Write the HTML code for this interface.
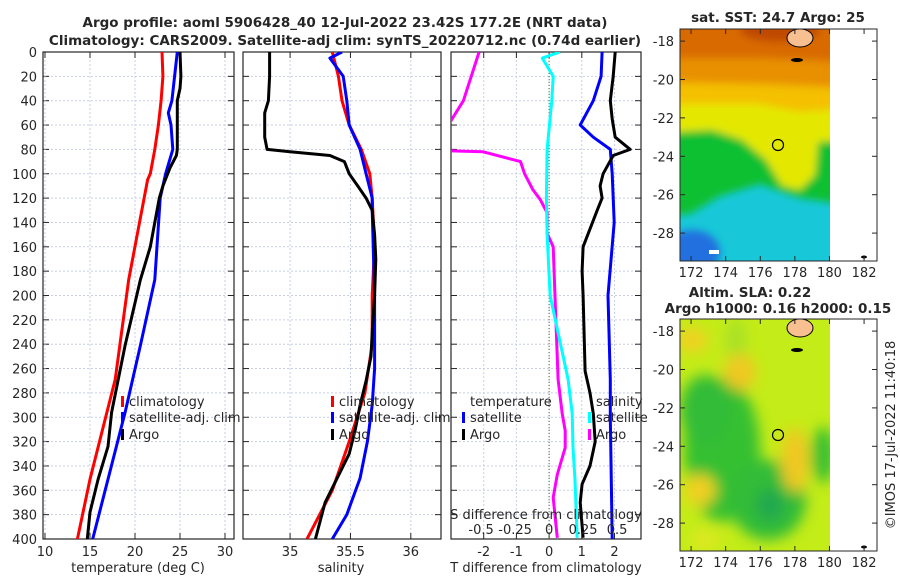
<!DOCTYPE html>
<html><head><meta charset="utf-8">
<style>
html,body{margin:0;padding:0;background:#fff;}
svg{display:block;font-family:"DejaVu Sans","Liberation Sans",sans-serif;}
text{fill:#262626;}
</style></head>
<body>
<svg id="c" width="900" height="580" viewBox="0 0 900 580" xmlns="http://www.w3.org/2000/svg">
<defs>
<clipPath id="cp1"><rect x="43" y="52" width="191" height="487"/></clipPath>
<clipPath id="cp2"><rect x="243" y="52" width="198" height="487"/></clipPath>
<clipPath id="cp3"><rect x="451" y="52" width="190" height="487"/></clipPath>
<clipPath id="cm1"><rect x="680" y="29" width="150" height="232"/></clipPath>
<clipPath id="cm2"><rect x="680" y="319" width="150" height="232"/></clipPath>
<filter id="bl" x="-20%" y="-20%" width="140%" height="140%"><feGaussianBlur stdDeviation="4"/></filter>
<filter id="bl2" x="-50%" y="-50%" width="200%" height="200%"><feGaussianBlur stdDeviation="7"/></filter>
</defs>
<text x="345" y="27" text-anchor="middle" font-weight="bold" font-size="13.5">Argo profile: aoml 5906428_40 12-Jul-2022 23.42S 177.2E (NRT data)</text>
<text x="345" y="45" text-anchor="middle" font-weight="bold" font-size="13.5">Climatology: CARS2009. Satellite-adj clim: synTS_20220712.nc (0.74d earlier)</text>

<!-- SST map -->
<g clip-path="url(#cm1)">
<rect x="680" y="29" width="150" height="232" fill="#18c8d8"/>
<g filter="url(#bl)">
<ellipse cx="692" cy="252" rx="28" ry="22" fill="#2070e0"/>
<polygon points="660,0 850,0 850,205 800,198 760,184 720,196 690,214 660,216" fill="#10c030"/>
<polygon points="660,0 850,0 850,140 818,142 815,175 800,190 782,186 766,160 742,140 712,130 660,133" fill="#e4e800"/>
<polygon points="660,0 850,0 850,108 800,112 760,104 720,104 660,104" fill="#f4c000"/>
<polygon points="660,0 850,0 850,88 760,84 660,82" fill="#e89000"/>
<polygon points="660,0 850,0 850,62 760,58 660,58" fill="#d86a00"/>
<ellipse cx="780" cy="30" rx="40" ry="12" fill="#c04800"/>
</g>
<rect x="709" y="250" width="10" height="4" fill="#fff"/>
</g>
<rect x="830" y="29" width="47" height="232" fill="#fff"/>
<ellipse cx="800" cy="38" rx="13" ry="9" fill="#f8c090" stroke="#000" stroke-width="1"/>
<ellipse cx="797" cy="60" rx="6" ry="2" fill="#000"/>
<ellipse cx="864" cy="257" rx="3" ry="1.5" fill="#000"/>
<circle cx="778" cy="145" r="5.5" fill="none" stroke="#000" stroke-width="1.2"/>
<rect x="680" y="29" width="197" height="232" fill="none" stroke="#262626" stroke-width="1"/>
<text x="778" y="22" text-anchor="middle" font-weight="bold" font-size="13.5">sat. SST: 24.7 Argo: 25</text>

<!-- SLA map -->
<g clip-path="url(#cm2)">
<rect x="680" y="319" width="150" height="232" fill="#c4ec18"/>
<g filter="url(#bl2)">
<ellipse cx="722" cy="450" rx="38" ry="72" fill="#34c030"/>
<ellipse cx="705" cy="410" rx="25" ry="35" fill="#30bc38"/>
<ellipse cx="768" cy="500" rx="38" ry="40" fill="#30bc38"/>
<ellipse cx="770" cy="505" rx="14" ry="16" fill="#20a850"/>
<ellipse cx="823" cy="455" rx="12" ry="28" fill="#38c030"/>
<ellipse cx="736" cy="340" rx="10" ry="22" fill="#a8e028"/>
<ellipse cx="740" cy="372" rx="16" ry="18" fill="#f0c820"/>
<ellipse cx="795" cy="460" rx="14" ry="32" fill="#f0c820"/>
<ellipse cx="700" cy="490" rx="16" ry="16" fill="#f0d020"/>
<ellipse cx="692" cy="340" rx="16" ry="12" fill="#f0d020"/>
<ellipse cx="705" cy="540" rx="14" ry="10" fill="#e0e820"/>
</g>
</g>
<rect x="830" y="319" width="47" height="232" fill="#fff"/>
<ellipse cx="800" cy="328" rx="13" ry="9" fill="#f8c090" stroke="#000" stroke-width="1"/>
<ellipse cx="797" cy="350" rx="6" ry="2" fill="#000"/>
<ellipse cx="864" cy="547" rx="3" ry="1.5" fill="#000"/>
<circle cx="778" cy="435" r="5.5" fill="none" stroke="#000" stroke-width="1.2"/>
<rect x="680" y="319" width="197" height="232" fill="none" stroke="#262626" stroke-width="1"/>
<text x="750" y="297" text-anchor="middle" font-weight="bold" font-size="13.5">Altim. SLA: 0.22</text>
<text x="778" y="313" text-anchor="middle" font-weight="bold" font-size="13.5">Argo h1000: 0.16 h2000: 0.15</text>
<text transform="translate(895,435) rotate(-90)" text-anchor="middle" font-size="13">©IMOS 17-Jul-2022 11:40:18</text>
</svg>
<script>
// ---- data ----
const depthTicks = [0,20,40,60,80,100,120,140,160,180,200,220,240,260,280,300,320,340,360,380,400];
const tempTicks = [10,15,20,25,30];
const salTicks = [35,35.5,36];
const salTickLabels = ["35","35.5","36"];
const tdiffTicks = [-2,-1,0,1,2];
const sdiffTicks = [-0.5,-0.25,0,0.25,0.5];
const sdiffTickLabels = ["-0.5","-0.25","0","0.25","0.5"];
const latTicks = [-18,-20,-22,-24,-26,-28];
const lonTicks = [172,174,176,178,180,182];

const tClimDepth = [0,20,40,60,80,100,105,187,269,351,400];
const tClimVal = [23.0,23.1,22.9,22.6,22.2,21.7,21.4,19.3,17.8,15.0,13.6];
const tSatDepth = [0,20,40,50,60,80,100,120,187,241,296,351,400];
const tSatVal = [24.7,24.4,24.1,23.7,24.0,24.2,23.4,22.8,22.2,20.6,18.9,17.0,15.3];
const tArgoDepth = [0,20,30,40,60,80,85,95,110,120,160,187,241,296,324,351,378,400];
const tArgoVal = [25.0,25.1,25.0,24.7,24.7,24.7,24.6,23.9,23.1,22.7,21.7,20.6,18.9,17.4,17.0,15.9,15.0,14.7];

const sClimDepth = [0,20,40,60,80,100,120,160,200,240,280,320,360,400];
const sClimVal = [35.35,35.40,35.43,35.49,35.59,35.66,35.68,35.70,35.68,35.68,35.62,35.49,35.35,35.14];
const sSatDepth = [0,5,20,40,60,80,100,120,130,200,260,290,320,350,380,400];
const sSatVal = [35.43,35.33,35.44,35.47,35.49,35.58,35.63,35.68,35.68,35.70,35.70,35.68,35.64,35.58,35.47,35.35];
const sArgoDepth = [0,20,40,50,70,80,82,85,90,100,110,120,130,150,170,200,230,250,270,290,310,330,350,370,400];
const sArgoVal = [34.83,34.83,34.82,34.79,34.79,34.81,35.0,35.33,35.45,35.49,35.56,35.63,35.68,35.70,35.71,35.70,35.68,35.67,35.63,35.58,35.54,35.49,35.39,35.29,35.21];

const dTSatDepth = [0,20,40,60,70,80,100,120,140,200,269,300,400];
const dTSatVal = [1.62,1.59,1.35,0.95,1.35,1.87,1.93,1.96,1.99,1.80,1.87,1.87,1.93];
const dTArgoDepth = [0,20,40,55,70,80,85,100,110,120,130,160,180,200,262,280,297,320,340,355,370,399];
const dTArgoVal = [2.02,1.96,1.87,1.93,2.02,2.48,1.96,1.65,1.56,1.62,1.47,1.04,1.01,1.04,1.10,1.25,1.35,1.41,1.25,1.01,0.95,1.04];
const dSSatDepth = [0,5,20,40,80,120,150,200,269,297,325,350,380,399];
const dSSatVal = [0.08,-0.05,0.03,0.02,-0.015,-0.02,-0.015,0.007,0.14,0.17,0.176,0.19,0.20,0.206];
const dSArgoDepth = [0,40,67,81,82,90,100,113,121,132,149,160,203,269,297,311,325,347,366,399];
const dSArgoVal = [-0.515,-0.63,-0.78,-0.78,-0.485,-0.21,-0.18,-0.12,-0.066,-0.015,-0.015,0.03,0.044,0.066,0.096,0.118,0.118,0.06,0.03,0.06];

// ---- axes ----
const Y0 = 52, Y1 = 539;
function yScale(d){ return Y0 + (d/400)*(Y1-Y0); }
const P1 = {x0:43, x1:234, d0:9.78, d1:31.0};
const P2 = {x0:243, x1:441, d0:34.61, d1:36.25};
const P3 = {x0:451, x1:641, d0:-3.0, d1:2.81};
function xs(P, v){ return P.x0 + (v-P.d0)/(P.d1-P.d0)*(P.x1-P.x0); }
function sdx(s){ return xs(P3,0) + s*136; }

const svg = document.getElementById('c');
const NS = 'http://www.w3.org/2000/svg';
function mk(tag, attrs, parent){
  const e = document.createElementNS(NS, tag);
  for (const k in attrs) e.setAttribute(k, attrs[k]);
  (parent||svg).appendChild(e);
  return e;
}
function txt(x,y,s,anchor,size,parent){
  const t = mk('text',{x:x,y:y,'text-anchor':anchor||'middle','font-size':size||13},parent);
  t.textContent = s;
  return t;
}

function drawPanel(P, name, xticks, xlabels, clip){
  const g = mk('g',{});
  
  
  // grid
  depthTicks.forEach(d=>{
    const y = yScale(d);
    const l = mk('line',{x1:P.x0,x2:P.x1,y1:y,y2:y,stroke:'#c8cfe6','stroke-width':1,'stroke-dasharray':'2,2'},g);
    
    
    mk('line',{x1:P.x0,x2:P.x0+6,y1:y,y2:y,stroke:'#262626','stroke-width':1},g);
    mk('line',{x1:P.x1-6,x2:P.x1,y1:y,y2:y,stroke:'#262626','stroke-width':1},g);
  });
  xticks.forEach((v,i)=>{
    const x = (P===P3) ? xs(P3,v) : xs(P,v);
    const l = mk('line',{x1:x,x2:x,y1:Y0,y2:Y1,stroke:'#c8cfe6','stroke-width':1,'stroke-dasharray':'2,2'},g);
    
    
    mk('line',{x1:x,x2:x,y1:Y1-6,y2:Y1,stroke:'#262626'},g);
    mk('line',{x1:x,x2:x,y1:Y0,y2:Y0+6,stroke:'#262626'},g);
    const t = txt(x, 556, xlabels[i], 'middle', 13, g);
    
    
  });
  const f = mk('rect',{x:P.x0,y:Y0,width:P.x1-P.x0,height:Y1-Y0,fill:'none',stroke:'#262626','stroke-width':1.2},g);
  
  
  return g;
}
function line(P, depths, vals, color, name, clip, xf){
  const pts = depths.map((d,i)=> (xf ? xf(vals[i]) : xs(P,vals[i])).toFixed(1)+','+yScale(d).toFixed(1)).join(' ');
  const p = mk('polyline',{points:pts,fill:'none',stroke:color,'stroke-width':3,'stroke-linejoin':'round','clip-path':'url(#'+clip+')'});
  
  
  return p;
}
function legend(x, y, color, label, name){
  const m = mk('rect',{x:x,y:y-10,width:3,height:11,fill:color});
  
  
  if (label!==null){
    const t = txt(x+8, y, label, 'start', 13);
    
    
  }
}

// Panel 1
drawPanel(P1, 'temperature', tempTicks, tempTicks.map(String), 'cp1');
depthTicks.forEach(d=>{
  const t = txt(37, yScale(d)+5, String(d), 'end', 13);
  
  
});
line(P1, tClimDepth, tClimVal, '#ff0000', 'temp-climatology-line', 'cp1');
line(P1, tSatDepth, tSatVal, '#0000ff', 'temp-satellite-line', 'cp1');
line(P1, tArgoDepth, tArgoVal, '#000000', 'temp-argo-line', 'cp1');
let xl = txt(138, 572, 'temperature (deg C)', 'middle', 13);


legend(121, 406, '#ff0000', 'climatology', 'legend-climatology-1');
legend(121, 422, '#0000ff', 'satellite-adj. clim', 'legend-satellite-1');
legend(121, 439, '#000000', 'Argo', 'legend-argo-1');

// Panel 2
drawPanel(P2, 'salinity', salTicks, salTickLabels, 'cp2');
line(P2, sClimDepth, sClimVal, '#ff0000', 'sal-climatology-line', 'cp2');
line(P2, sSatDepth, sSatVal, '#0000ff', 'sal-satellite-line', 'cp2');
line(P2, sArgoDepth, sArgoVal, '#000000', 'sal-argo-line', 'cp2');
xl = txt(341, 572, 'salinity', 'middle', 13);


legend(331, 406, '#ff0000', 'climatology', 'legend-climatology-2');
legend(331, 422, '#0000ff', 'satellite-adj. clim', 'legend-satellite-2');
legend(331, 439, '#000000', 'Argo', 'legend-argo-2');

// Panel 3
drawPanel(P3, 'difference', tdiffTicks, tdiffTicks.map(String), 'cp3');
const zl = mk('line',{x1:xs(P3,0),x2:xs(P3,0),y1:Y0,y2:Y1,stroke:'#556b2f','stroke-width':1,'stroke-dasharray':'1,2'});


line(P3, dSArgoDepth, dSArgoVal, '#ff00ff', 'sdiff-argo-line', 'cp3', sdx);
line(P3, dSSatDepth, dSSatVal, '#00ffff', 'sdiff-satellite-line', 'cp3', sdx);
line(P3, dTSatDepth, dTSatVal, '#0000ff', 'tdiff-satellite-line', 'cp3');
line(P3, dTArgoDepth, dTArgoVal, '#000000', 'tdiff-argo-line', 'cp3');
xl = txt(546, 572, 'T difference from climatology', 'middle', 13);


xl = txt(546, 519, 'S difference from climatology', 'middle', 13);


sdiffTicks.forEach((s,i)=>{
  const t = txt(sdx(s), 534, sdiffTickLabels[i], 'middle', 13);
  
  
});
let lt = txt(470, 406, 'temperature', 'start', 13);


legend(462, 422, '#0000ff', 'satellite', 'legend-tdiff-satellite');
legend(462, 439, '#000000', 'Argo', 'legend-tdiff-argo');
lt = txt(596, 406, 'salinity', 'start', 13);


legend(588, 422, '#00ffff', 'satellite', 'legend-sdiff-satellite');
legend(588, 439, '#ff00ff', 'Argo', 'legend-sdiff-argo');

// Map axes
function lonX(l){ return 680 + (l-171.36)*17.3; }
function latY(top, l){ return top + (-17.37 - l)*19.2; }
[[29,261],[319,551]].forEach((b,mi)=>{
  latTicks.forEach(l=>{
    const y = latY(b[0], l);
    mk('line',{x1:680,x2:685,y1:y,y2:y,stroke:'#262626'});
    mk('line',{x1:872,x2:877,y1:y,y2:y,stroke:'#262626'});
    const t = txt(674, y+5, String(l), 'end', 13);
    
    
  });
  lonTicks.forEach(l=>{
    const x = lonX(l);
    mk('line',{x1:x,x2:x,y1:b[1]-5,y2:b[1],stroke:'#262626'});
    mk('line',{x1:x,x2:x,y1:b[0],y2:b[0]+5,stroke:'#262626'});
    const t = txt(x, b[1]+16, String(l), 'middle', 13);
    
    
  });
});
</script>
</body></html>
